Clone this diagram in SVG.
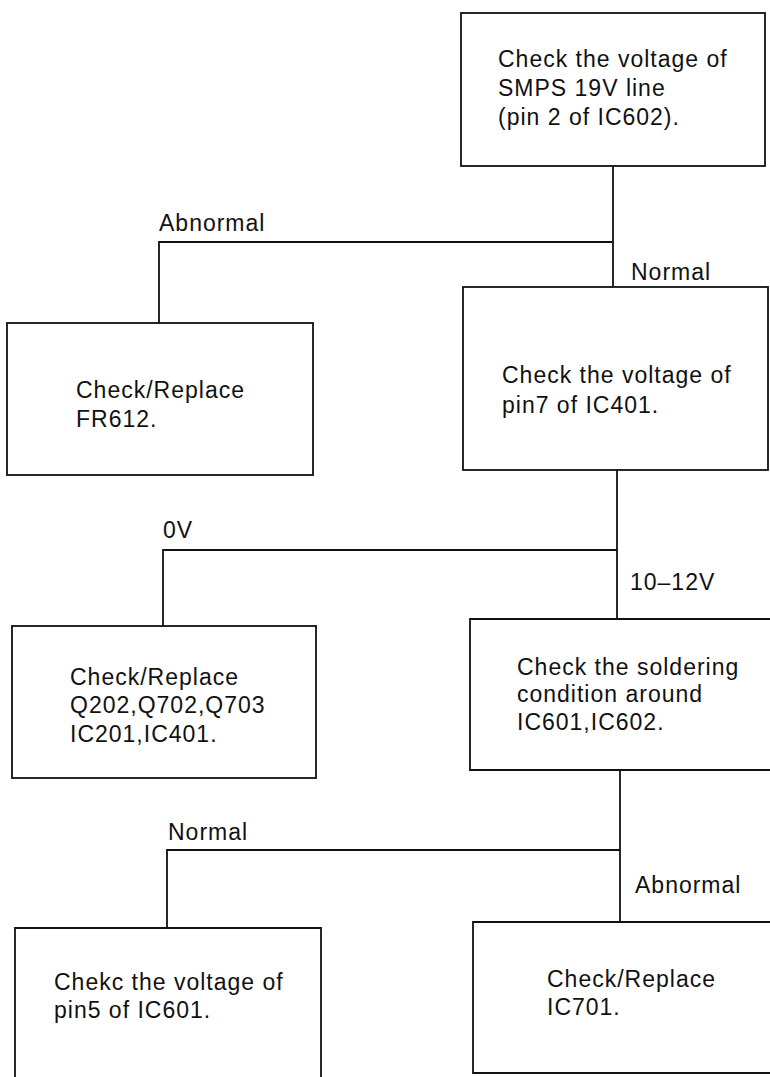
<svg xmlns="http://www.w3.org/2000/svg" width="770" height="1077" viewBox="0 0 770 1077">
<style>
.box{fill:none;stroke:#111;stroke-width:1.8}
.wire{fill:none;stroke:#111;stroke-width:1.8}
text{font-family:"Liberation Sans",Arial,sans-serif;font-size:23px;fill:#111;letter-spacing:1px}
</style>
<rect width="770" height="1077" fill="#fff"/>
<g id="connectors">
<path class="wire" d="M613,166 V287"/>
<path class="wire" d="M613,242 H159 V323"/>
<path class="wire" d="M617,470 V619"/>
<path class="wire" d="M617,550 H163 V626"/>
<path class="wire" d="M620,770 V922"/>
<path class="wire" d="M620,850 H167 V928"/>
<text x="159" y="231">Abnormal</text>
<text x="631" y="280">Normal</text>
<text x="163" y="538">0V</text>
<text x="630" y="590">10–12V</text>
<text x="168" y="840">Normal</text>
<text x="635" y="893">Abnormal</text>
</g>
<g id="n1">
<rect class="box" x="461" y="13" width="304" height="153"/>
<text x="498" y="67">Check the voltage of</text>
<text x="498" y="96">SMPS 19V line</text>
<text x="498" y="125">(pin 2 of IC602).</text>
</g>
<g id="n2">
<rect class="box" x="7" y="323" width="306" height="152"/>
<text x="76" y="398">Check/Replace</text>
<text x="76" y="427">FR612.</text>
</g>
<g id="n3">
<rect class="box" x="463" y="287" width="305" height="183"/>
<text x="502" y="383">Check the voltage of</text>
<text x="502" y="413">pin7 of IC401.</text>
</g>
<g id="n4">
<rect class="box" x="12" y="626" width="304" height="152"/>
<text x="70" y="685">Check/Replace</text>
<text x="70" y="713">Q202,Q702,Q703</text>
<text x="70" y="742">IC201,IC401.</text>
</g>
<g id="n5">
<path class="box" d="M771,619 H470 V770 H771"/>
<text x="517" y="675">Check the soldering</text>
<text x="517" y="702">condition around</text>
<text x="517" y="730">IC601,IC602.</text>
</g>
<g id="n6">
<path class="box" d="M15,1078 V928 H321 V1078"/>
<text x="54" y="990">Chekc the voltage of</text>
<text x="54" y="1018">pin5 of IC601.</text>
</g>
<g id="n7">
<path class="box" d="M771,922 H473 V1073 H771"/>
<text x="547" y="987">Check/Replace</text>
<text x="547" y="1015">IC701.</text>
</g>
</svg>
